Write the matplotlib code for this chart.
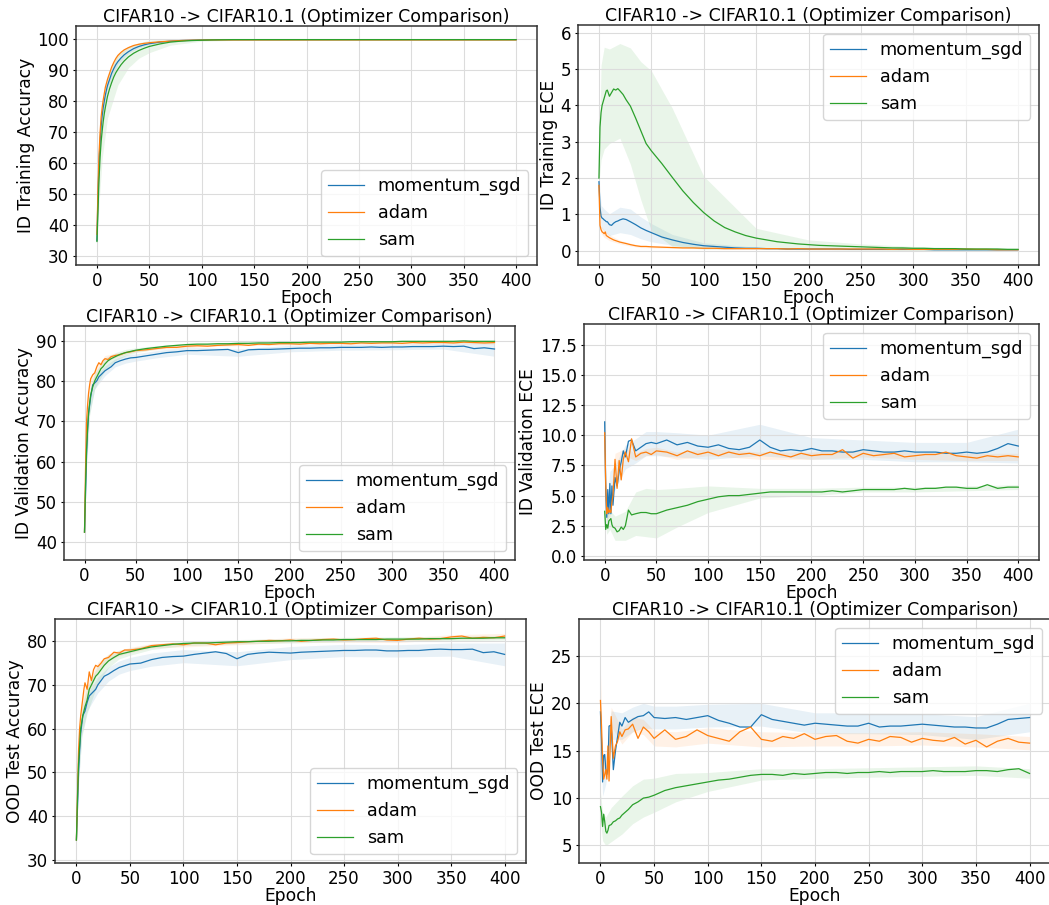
import matplotlib
matplotlib.use("Agg")
import numpy as np
from matplotlib import pyplot as plt
from matplotlib.ticker import MultipleLocator

# ---- Settings ----
OUT_FILE = "out.png"
FIG_W, FIG_H, DPI = 10.49, 9.05, 100
TICK_SIZE = 12
LABEL_SIZE = 12.3
LEGEND_SIZE = 12.7
TITLE_SIZE = 12.5
TITLE = "CIFAR10 -> CIFAR10.1 (Optimizer Comparison)"
OPTIMIZERS = ["momentum_sgd", "adam", "sam"]
COLORS = {"momentum_sgd": "tab:blue", "adam": "tab:orange", "sam": "tab:green"}

EPOCHS = [0, 1, 2, 3, 4, 5, 6, 7, 8, 10, 12, 14, 16, 18, 20, 23, 26, 30, 35, 40, 45, 50,
          60, 70, 80, 90, 100, 110, 120, 130, 140, 150, 160, 170, 180, 190, 200,
          210, 220, 230, 240, 250, 260, 270, 280, 290, 300, 310, 320, 330, 340,
          350, 360, 370, 380, 390, 400]
BAND_EPOCHS = [0, 2, 5, 10, 20, 30, 40, 50, 70, 100, 150, 200, 250, 300, 350, 400]

# ---- ID training accuracy ----
train_acc_sgd = [35, 50, 60, 67, 72, 75.5, 78, 80, 82, 85, 87, 89, 90.5, 91.8, 92.8, 94, 95, 96, 97, 97.7, 98.2, 98.6,
                 99.1, 99.4, 99.6, 99.7, 99.8, 99.85, 99.9, 99.9, 99.9, 99.9, 99.9, 99.9, 99.9, 99.9, 99.9,
                 99.9, 99.9, 99.9, 99.9, 99.9, 99.9, 99.9, 99.9, 99.9, 99.9, 99.9, 99.9, 99.9, 99.9,
                 99.9, 99.9, 99.9, 99.9, 99.9, 99.9]
train_acc_adam = [37, 52, 63, 70, 75, 78, 80.5, 82.5, 84.5, 87, 89, 91, 92.5, 93.8, 94.8, 95.8, 96.6, 97.3, 98, 98.4, 98.7, 98.9,
                  99.2, 99.4, 99.6, 99.7, 99.75, 99.8, 99.8, 99.8, 99.8, 99.8, 99.8, 99.8, 99.8, 99.8, 99.8,
                  99.8, 99.8, 99.8, 99.8, 99.8, 99.8, 99.8, 99.8, 99.8, 99.8, 99.8, 99.8, 99.8, 99.8,
                  99.8, 99.8, 99.8, 99.8, 99.8, 99.8]
train_acc_sam = [34.7, 45, 55, 62, 67, 70.5, 73.5, 76, 78, 81.5, 84, 86, 87.8, 89.2, 90.3, 91.8, 93, 94.3, 95.5, 96.4, 97.1, 97.7,
                 98.5, 99.1, 99.4, 99.6, 99.7, 99.8, 99.85, 99.9, 99.9, 99.9, 99.9, 99.9, 99.9, 99.9, 99.9,
                 99.9, 99.9, 99.9, 99.9, 99.9, 99.9, 99.9, 99.9, 99.9, 99.9, 99.9, 99.9, 99.9, 99.9,
                 99.9, 99.9, 99.9, 99.9, 99.9, 99.9]
train_acc_std_sgd = [1, 2, 1.5, 1, 0.8, 0.5, 0.4, 0.3, 0.2, 0.1, 0.05, 0.05, 0.05, 0.05, 0.05, 0.05]
train_acc_std_adam = [1, 2, 1.5, 1, 0.6, 0.4, 0.3, 0.2, 0.1, 0.05, 0.05, 0.05, 0.05, 0.05, 0.05, 0.05]
train_acc_std_sam = [1, 8, 9, 7, 5, 3.5, 2.5, 2, 1, 0.3, 0.1, 0.05, 0.05, 0.05, 0.05, 0.05]

# ---- ID training ECE ----
train_ece_sgd = [1.9, 1.2, 0.95, 0.9, 0.88, 0.85, 0.83, 0.8, 0.8, 0.72, 0.7, 0.76, 0.8, 0.82, 0.85, 0.88, 0.86, 0.8, 0.72, 0.63, 0.56, 0.5,
                 0.38, 0.3, 0.23, 0.18, 0.14, 0.12, 0.1, 0.08, 0.07, 0.07, 0.06, 0.06, 0.05, 0.05, 0.05,
                 0.05, 0.05, 0.05, 0.04, 0.04, 0.04, 0.04, 0.04, 0.04, 0.04, 0.04, 0.03, 0.03, 0.03,
                 0.03, 0.03, 0.03, 0.03, 0.03, 0.03]
train_ece_adam = [1.8, 0.7, 0.58, 0.52, 0.5, 0.47, 0.52, 0.42, 0.4, 0.36, 0.33, 0.3, 0.28, 0.26, 0.24, 0.22, 0.2, 0.17, 0.14, 0.12, 0.12, 0.11,
                  0.1, 0.09, 0.08, 0.08, 0.07, 0.07, 0.06, 0.06, 0.06, 0.06, 0.06, 0.06, 0.05, 0.06, 0.05,
                  0.05, 0.05, 0.05, 0.05, 0.05, 0.05, 0.05, 0.04, 0.05, 0.04, 0.04, 0.04, 0.04, 0.04,
                  0.05, 0.04, 0.04, 0.03, 0.03, 0.03]
train_ece_sam = [2.0, 3.4, 3.8, 4.0, 4.1, 4.2, 4.3, 4.4, 4.42, 4.25, 4.35, 4.45, 4.42, 4.46, 4.4, 4.3, 4.15, 3.98, 3.65, 3.3, 2.95, 2.75,
                 2.4, 2.02, 1.65, 1.33, 1.05, 0.82, 0.64, 0.52, 0.42, 0.35, 0.3, 0.25, 0.22, 0.19, 0.17,
                 0.15, 0.14, 0.13, 0.12, 0.11, 0.1, 0.09, 0.08, 0.08, 0.07, 0.07, 0.06, 0.06, 0.06,
                 0.05, 0.05, 0.05, 0.05, 0.04, 0.04]
train_ece_std_sgd = [0.1, 0.3, 0.3, 0.3, 0.35, 0.35, 0.3, 0.25, 0.15, 0.08, 0.03, 0.02, 0.02, 0.02, 0.02, 0.02]
train_ece_std_adam = [0.05, 0.1, 0.1, 0.08, 0.05, 0.04, 0.03, 0.03, 0.02, 0.02, 0.02, 0.02, 0.02, 0.02, 0.02, 0.02]
train_ece_std_sam = [0.1, 1.3, 1.4, 1.3, 1.3, 1.6, 1.9, 2.2, 1.9, 1.0, 0.27, 0.13, 0.08, 0.05, 0.04, 0.03]

# ---- ID validation accuracy ----
val_acc_sgd = [42.5, 52, 62, 68, 72, 74, 76, 77.5, 79, 79.5, 80, 81, 81.5, 82, 82.5, 83, 83.5, 84.5, 85, 85.4, 85.7, 85.8,
               86.2, 86.6, 87, 87.2, 87.5, 87.5, 87.6, 87.7, 87.8, 87.0, 87.7, 87.8, 87.8, 87.9, 88,
               88.1, 88.1, 88.2, 88.2, 88.3, 88.3, 88.3, 88.4, 88.3, 88.4, 88.4, 88.5, 88.5, 88.5,
               88.6, 88.5, 88.6, 88.0, 88.2, 87.9]
val_acc_adam = [42.5, 58, 70, 74, 77, 79, 80.5, 81, 81.5, 82, 83.5, 84.5, 84, 85, 85.5, 85.3, 86, 86.3, 86.5, 87, 87.2, 87.5,
                87.7, 88, 88.3, 88.3, 88.6, 88.7, 88.6, 88.8, 88.9, 89, 88.8, 89.1, 89, 89.2, 89.2,
                89.1, 89.3, 89.2, 89.3, 89.3, 89.2, 89.4, 89.3, 89.4, 89.4, 89.3, 89.5, 89.4, 89.5,
                89.5, 89.4, 89.6, 89.5, 89.4, 89.5]
val_acc_sam = [42.5, 54, 63, 68, 72, 74.5, 76.5, 77.5, 78.5, 80, 81, 82, 83, 83.5, 84.2, 85, 85.5, 86, 86.6, 87, 87.3, 87.6,
               88, 88.3, 88.6, 88.8, 89, 89.1, 89.1, 89.2, 89.2, 89.3, 89.3, 89.4, 89.4, 89.5, 89.5,
               89.5, 89.6, 89.6, 89.6, 89.6, 89.7, 89.7, 89.7, 89.7, 89.7, 89.8, 89.8, 89.8, 89.8,
               89.8, 89.8, 89.9, 89.8, 89.8, 89.8]
val_acc_std_sgd = [0.3, 3, 2, 1.5, 1.2, 1, 1, 0.9, 0.9, 0.9, 0.9, 0.8, 0.7, 0.7, 0.7, 1.8]
val_acc_std_adam = [0.3, 2, 1.5, 1, 0.8, 0.5, 0.4, 0.3, 0.3, 0.3, 0.3, 0.3, 0.3, 0.3, 0.3, 0.4]
val_acc_std_sam = [0.3, 4, 3, 2, 1.5, 1, 0.8, 0.6, 0.4, 0.3, 0.3, 0.2, 0.2, 0.2, 0.2, 0.2]

# ---- ID validation ECE ----
val_ece_sgd = [11.1, 5.5, 3.2, 5.5, 3.5, 6.0, 3.5, 5.8, 4.2, 6.5, 5.8, 7.0, 7.8, 8.7, 8.2, 9.5, 9.6, 8.7, 9.0, 9.3, 9.4, 9.3,
               9.6, 9.2, 9.4, 9.1, 9.0, 9.2, 8.9, 8.8, 9.0, 9.6, 9.0, 8.7, 8.8, 8.7, 8.9,
               8.7, 8.7, 8.6, 8.6, 8.8, 8.7, 8.6, 8.6, 8.7, 8.6, 8.6, 8.6, 8.5, 8.5,
               8.6, 8.5, 8.6, 8.9, 9.3, 9.1]
val_ece_adam = [10.2, 6.0, 3.5, 4.0, 3.6, 3.8, 3.6, 4.5, 5.0, 8.0, 5.6, 7.9, 6.3, 8.0, 8.6, 7.8, 9.7, 8.2, 8.5, 8.6, 8.4, 8.7,
                8.6, 8.3, 8.7, 8.4, 8.6, 8.3, 8.6, 8.4, 8.5, 8.3, 8.6, 8.4, 8.2, 8.5, 8.3,
                8.4, 8.4, 8.8, 8.1, 8.5, 8.3, 8.4, 8.5, 8.2, 8.3, 8.4, 8.4, 8.6, 8.3,
                8.2, 8.1, 8.3, 8.2, 8.3, 8.2]
val_ece_sam = [3.7, 2.2, 2.6, 2.3, 2.9, 3.0, 3.1, 2.6, 2.4, 2.3, 2.0, 2.1, 2.4, 2.2, 2.5, 3.8, 3.4, 3.5, 3.6, 3.6, 3.5, 3.5,
               3.8, 4.0, 4.2, 4.5, 4.7, 4.9, 5.0, 5.0, 5.1, 5.2, 5.3, 5.3, 5.3, 5.3, 5.3,
               5.3, 5.4, 5.3, 5.4, 5.5, 5.5, 5.5, 5.5, 5.6, 5.5, 5.6, 5.6, 5.7, 5.7,
               5.6, 5.6, 5.9, 5.6, 5.7, 5.7]
val_ece_std_sgd = [0.5, 1.0, 1.0, 1.0, 1.0, 1.0, 1.0, 1.0, 1.0, 1.0, 1.3, 0.9, 0.8, 0.8, 0.8, 1.4]
val_ece_std_adam = [0.3, 0.5, 0.5, 0.5, 0.3, 0.3, 0.3, 0.3, 0.3, 0.3, 0.3, 0.3, 0.3, 0.3, 0.3, 0.3]
val_ece_std_sam = [0.5, 0.8, 0.8, 1.0, 1.2, 1.8, 2.0, 2.0, 1.6, 1.1, 0.4, 0.3, 0.2, 0.2, 0.2, 0.2]

# ---- OOD test accuracy ----
test_acc_sgd = [34.5, 42, 50, 55, 59, 61, 63, 63.5, 64, 66, 67.5, 68, 68.5, 69, 70, 71, 72, 72.5, 73.3, 74, 74.4, 74.8,
                75.0, 75.8, 76.3, 76.5, 76.6, 77, 77.3, 77.6, 77.2, 76.0, 77.0, 77.3, 77.5, 77.4, 77.3,
                77.5, 77.6, 77.7, 77.8, 77.9, 77.9, 78.0, 78.0, 77.8, 77.8, 77.9, 77.9, 78.1, 78.2,
                78.1, 78.1, 78.2, 77.4, 77.6, 77.0]
test_acc_adam = [34.5, 45, 55, 60, 63, 65, 67, 69, 70.5, 69, 73, 71, 73.5, 74.5, 74.2, 75, 76, 76.3, 77.5, 77.3, 78, 78,
                 78.3, 79, 79.2, 79.4, 79.2, 79.6, 79.6, 79.2, 79.6, 79.7, 79.9, 80.0, 80.2, 80.1, 80.3,
                 80.0, 80.2, 80.4, 80.5, 80.3, 80.4, 80.6, 80.7, 80.3, 80.2, 80.5, 80.7, 80.5, 80.6,
                 81.0, 81.2, 80.7, 80.9, 80.8, 81.2]
test_acc_sam = [34.5, 44, 52, 56, 60, 61.5, 63, 64, 65, 66.5, 69, 70, 71, 72, 72.5, 73.5, 74.5, 75.5, 76.3, 77, 77.3, 77.6,
                78.2, 78.7, 79, 79.3, 79.5, 79.6, 79.6, 79.7, 79.8, 79.9, 79.9, 80.0, 80.0, 80.1, 80.1,
                80.2, 80.2, 80.3, 80.3, 80.4, 80.4, 80.4, 80.4, 80.5, 80.5, 80.5, 80.5, 80.6, 80.6,
                80.6, 80.7, 80.7, 80.7, 80.8, 80.8]
test_acc_std_sgd = [0.5, 3, 2.5, 2, 1.8, 1.6, 1.5, 1.5, 1.5, 1.5, 1.6, 1.5, 1.4, 1.4, 1.5, 2.6]
test_acc_std_adam = [0.5, 2.5, 2, 1.5, 1, 0.8, 0.6, 0.6, 0.5, 0.5, 0.5, 0.5, 0.5, 0.5, 0.5, 0.6]
test_acc_std_sam = [0.5, 4, 3.5, 3, 2, 1.5, 1, 0.8, 0.6, 0.5, 0.5, 0.5, 0.5, 0.5, 0.5, 0.5]

# ---- OOD test ECE ----
test_ece_sgd = [19.1, 16, 11.7, 14.5, 14.6, 13.0, 12.5, 13.1, 17.6, 17.7, 13.0, 15.0, 16.5, 18.0, 17.6, 18.5, 18.0, 18.3, 18.6, 18.7, 19.1, 18.5,
                18.4, 18.5, 18.3, 18.5, 18.7, 18.2, 17.9, 17.5, 17.5, 18.8, 18.3, 18.1, 17.9, 17.7, 17.9,
                17.8, 17.7, 17.6, 17.6, 17.9, 17.5, 17.6, 17.6, 17.7, 17.8, 17.7, 17.6, 17.5, 17.5,
                17.4, 17.4, 17.8, 18.3, 18.4, 18.5]
test_ece_adam = [20.3, 17.5, 14.0, 12.0, 12.5, 13.0, 12.0, 15.5, 11.8, 18.6, 14.2, 15.5, 16.0, 17.0, 16.5, 17.2, 17.3, 17.8, 16.3, 17.5, 17.0, 16.3,
                 17.2, 16.2, 16.5, 17.2, 16.6, 16.3, 16.0, 17.0, 17.5, 16.2, 16.0, 16.5, 16.3, 16.8, 16.2,
                 16.5, 16.6, 16.0, 15.8, 16.2, 16.0, 16.5, 16.4, 15.9, 16.3, 16.1, 16.0, 16.4, 15.7,
                 16.1, 15.4, 16.0, 16.3, 15.9, 15.8]
test_ece_sam = [9.1, 8.5, 7.0, 8.3, 7.5, 6.5, 6.3, 6.6, 7.1, 7.2, 7.5, 7.6, 7.8, 7.9, 8.2, 8.5, 8.8, 9.3, 9.6, 10.0, 10.1, 10.3,
                10.8, 11.1, 11.3, 11.5, 11.7, 11.9, 12.0, 12.2, 12.4, 12.5, 12.5, 12.4, 12.6, 12.5, 12.6,
                12.7, 12.7, 12.6, 12.7, 12.7, 12.8, 12.7, 12.8, 12.8, 12.8, 12.9, 12.8, 12.8, 12.8,
                12.9, 12.9, 12.8, 13.0, 13.1, 12.6]
test_ece_std_sgd = [1.5, 1.5, 1.5, 1.5, 1.4, 1.3, 1.3, 1.2, 1.2, 1.2, 1.2, 1.1, 1.1, 1.1, 1.2, 1.5]
test_ece_std_adam = [3, 1, 1, 1, 0.8, 0.8, 0.8, 0.8, 0.8, 0.8, 0.8, 0.7, 0.7, 0.7, 0.7, 0.7]
test_ece_std_sam = [1.5, 1.5, 1.5, 1.8, 2, 2, 2, 1.8, 1.5, 1, 0.6, 0.5, 0.5, 0.5, 0.5, 0.5]


def px_box(left, right, top, bottom):
    """Axes box given in pixels of the 1049x905 canvas -> figure fractions."""
    W, H = FIG_W * DPI, FIG_H * DPI
    return [left / W, 1 - bottom / H, (right - left) / W, (bottom - top) / H]


# one entry per panel: (box, ylabel, ylim, y tick step, legend loc, means, stds)
PANELS = [
    (px_box(76, 537, 26, 265), "ID Training Accuracy", (27.1, 104.3), 10, "lower right",
     [train_acc_sgd, train_acc_adam, train_acc_sam],
     [train_acc_std_sgd, train_acc_std_adam, train_acc_std_sam]),
    (px_box(578, 1039, 25, 265), "ID Training ECE", (-0.39, 6.21), 1, "upper right",
     [train_ece_sgd, train_ece_adam, train_ece_sam],
     [train_ece_std_sgd, train_ece_std_adam, train_ece_std_sam]),
    (px_box(64, 515, 326, 560), "ID Validation Accuracy", (35.6, 93.6), 10, "lower right",
     [val_acc_sgd, val_acc_adam, val_acc_sam],
     [val_acc_std_sgd, val_acc_std_adam, val_acc_std_sam]),
    (px_box(584, 1039, 324, 560), "ID Validation ECE", (-0.33, 19.2), 2.5, "upper right",
     [val_ece_sgd, val_ece_adam, val_ece_sam],
     [val_ece_std_sgd, val_ece_std_adam, val_ece_std_sam]),
    (px_box(55, 526, 619, 863), "OOD Test Accuracy", (29.25, 85.1), 10, "lower right",
     [test_acc_sgd, test_acc_adam, test_acc_sam],
     [test_acc_std_sgd, test_acc_std_adam, test_acc_std_sam]),
    (px_box(579, 1051, 619, 863), "OOD Test ECE", (3.15, 28.9), 5, "upper right",
     [test_ece_sgd, test_ece_adam, test_ece_sam],
     [test_ece_std_sgd, test_ece_std_adam, test_ece_std_sam]),
]


def draw_panel(ax, ylabel, ylim, ystep, loc, means, stds):
    band_idx = [EPOCHS.index(e) for e in BAND_EPOCHS]
    for name, mean, std in zip(OPTIMIZERS, means, stds):
        mean = np.asarray(mean, dtype=float)
        std = np.asarray(std, dtype=float)
        center = mean[band_idx]
        ax.fill_between(BAND_EPOCHS, center - std, center + std,
                        color=COLORS[name], alpha=0.1, linewidth=0)
        ax.plot(EPOCHS, mean, color=COLORS[name], linewidth=0.9, label=name)
    ax.set_xlim(-20, 420)
    ax.set_ylim(*ylim)
    ax.set_xticks(range(0, 401, 50))
    ax.yaxis.set_major_locator(MultipleLocator(ystep))
    ax.tick_params(labelsize=TICK_SIZE, length=2.5, pad=2.5)
    ax.set_title(TITLE, fontsize=TITLE_SIZE, pad=3)
    ax.set_xlabel("Epoch", fontsize=LABEL_SIZE, labelpad=-1)
    ax.set_ylabel(ylabel, fontsize=LABEL_SIZE, labelpad=2)
    ax.grid(True, color="#dcdcdc", linewidth=0.8)
    for spine in ax.spines.values():
        spine.set_linewidth(1.1)
        spine.set_color("#333333")
    ax.legend(loc=loc, fontsize=LEGEND_SIZE)


if __name__ == "__main__":
    fig = plt.figure(figsize=(FIG_W, FIG_H), dpi=DPI)
    for box, ylabel, ylim, ystep, loc, means, stds in PANELS:
        ax = fig.add_axes(box)
        draw_panel(ax, ylabel, ylim, ystep, loc, means, stds)
    fig.savefig(OUT_FILE, dpi=DPI)
